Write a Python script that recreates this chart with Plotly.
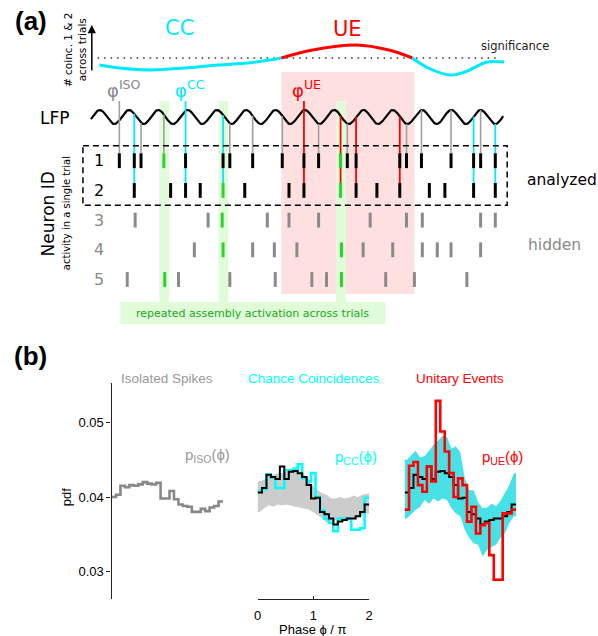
import numpy as np
import plotly.graph_objects as go

W, H = 598, 636

# ======================= Panel (a): single-trial sketch =======================
# spike times in units of LFP cycles (cycle 0 = first LFP peak)
spikes_n1 = [0.67, 1.18, 1.41, 2.19, 2.93, 4.21, 4.44, 5.22, 6.23, 6.97, 7.47,
             8.22, 8.45, 8.75, 10.24, 10.47, 10.98, 11.99, 12.76, 13.00, 13.50]
spikes_n2 = [1.18, 2.42, 2.93, 3.43, 4.21, 4.95, 6.46, 6.97, 8.22, 8.75, 9.46,
             10.24, 11.25, 11.78, 12.76, 13.50]
spikes_n3 = [1.21, 3.70, 4.18, 5.72, 6.46, 7.47, 9.23, 10.47, 11.01, 13.00, 13.50]
spikes_n4 = [3.23, 4.21, 5.22, 5.96, 6.73, 8.25, 8.99, 10.00, 11.01, 11.52, 11.99, 13.00]
spikes_n5 = [0.94, 2.22, 2.69, 4.44, 5.99, 7.24, 7.74, 8.25, 9.76, 10.74, 12.53]

assembly_times = [2.20, 4.22, 8.23]
assembly_members = [[1, 5], [2, 3, 4], [1, 2, 4, 5]]
ue_window = [6.20, 10.74]
lfp_span = [-0.30, 13.77]
labelled_spikes = [("ISO", 0.67), ("CC", 2.93), ("UE", 6.97)]   # spikes of neuron 1

# number of coincidences (neurons 1 & 2) across trials, schematic
coinc_t = [-0.01, 0.67, 1.78, 2.90, 4.04, 5.15, 6.20, 7.27, 8.75, 9.87, 10.67,
           11.21, 11.95, 12.46, 13.23, 13.80]
coinc_n = [8.6, 8.0, 7.6, 8.0, 8.6, 9.06, 10.0, 11.6, 12.6, 11.6, 10.0,
           8.0, 6.6, 7.2, 9.2, 9.2]
significance_level = 10.0
significance_span = [-0.07, 13.57]

# ======================= Panel (b): phase distributions =======================
n_bins = 25
p_iso = [0.0400, 0.0403, 0.0415, 0.0413, 0.0416, 0.0415, 0.0417, 0.0420, 0.0418,
         0.0417, 0.0419, 0.0398, 0.0398, 0.0408, 0.0397, 0.0390, 0.0388, 0.0387,
         0.0380, 0.0380, 0.0384, 0.0381, 0.0386, 0.0388, 0.0394]
p_all = [0.0406, 0.0412, 0.0430, 0.0427, 0.0424, 0.0441, 0.0424, 0.0434, 0.0435,
         0.0432, 0.0427, 0.0416, 0.0398, 0.0399, 0.0380, 0.0377, 0.0371, 0.0363,
         0.0367, 0.0369, 0.0371, 0.0371, 0.0374, 0.0380, 0.0390]
p_cc = [0.0408, 0.0410, 0.0430, 0.0426, 0.0412, 0.0412, 0.0436, 0.0436, 0.0438,
        0.0444, 0.0425, 0.0421, 0.0432, 0.0400, 0.0382, 0.0371, 0.0365, 0.0354,
        0.0371, 0.0371, 0.0371, 0.0356, 0.0356, 0.0358, 0.0399]
cc_hi = [0.0421, 0.0423, 0.0430, 0.0430, 0.0432, 0.0432, 0.0434, 0.0434, 0.0436,
         0.0432, 0.0430, 0.0425, 0.0414, 0.0409, 0.0405, 0.0403, 0.0398, 0.0398,
         0.0400, 0.0398, 0.0399, 0.0402, 0.0400, 0.0403, 0.0405]
cc_lo = [0.0380, 0.0385, 0.0389, 0.0387, 0.0390, 0.0389, 0.0390, 0.0389, 0.0387,
         0.0386, 0.0385, 0.0383, 0.0380, 0.0376, 0.0371, 0.0365, 0.0367, 0.0369,
         0.0369, 0.0369, 0.0370, 0.0371, 0.0374, 0.0375, 0.0378]
p_ue = [0.0383, 0.0442, 0.0447, 0.0416, 0.0407, 0.0441, 0.0421, 0.0529, 0.0488,
        0.0461, 0.0432, 0.0400, 0.0425, 0.0416, 0.0367, 0.0387, 0.0351, 0.0362,
        0.0365, 0.0322, 0.0289, 0.0289, 0.0378, 0.0378, 0.0383]
ue_hi = [0.0450, 0.0456, 0.0462, 0.0453, 0.0455, 0.0462, 0.0470, 0.0476, 0.0482,
         0.0481, 0.0465, 0.0468, 0.0460, 0.0425, 0.0409, 0.0409, 0.0393, 0.0385,
         0.0386, 0.0391, 0.0388, 0.0395, 0.0406, 0.0416, 0.0432]
ue_lo = [0.0371, 0.0377, 0.0383, 0.0387, 0.0396, 0.0391, 0.0398, 0.0394, 0.0398,
         0.0396, 0.0385, 0.0378, 0.0374, 0.0356, 0.0345, 0.0338, 0.0336, 0.0320,
         0.0329, 0.0333, 0.0336, 0.0345, 0.0351, 0.0365, 0.0374]
y_ticks = [0.03, 0.04, 0.05]
x_ticks = [0, 1, 2]

# ======================= layout constants (pixels) =======================
FA = "DejaVu Sans"
FB = "Liberation Sans"
CYAN = "#00eaff"
RED = "#ff0000"
GREEN = "#2fd12f"
GRAYS = "#8a8a8a"
GRAYL = "#a0a0a0"

T0_PX, PX_PER_CYCLE = 97.0, 29.7
ROW0_PX, PX_PER_ROW = 131.0, 29.7


def px(x):
    return x / W


def py(y):
    return 1 - y / H


def row_of(ypx):
    return (ypx - ROW0_PX) / PX_PER_ROW


LFP_MID, LFP_AMP = row_of(117), 7 / PX_PER_ROW


def lfp(t):
    return LFP_MID - LFP_AMP * np.cos(2 * np.pi * np.asarray(t))


SPIKE_HALF = 0.25
fig = go.Figure()

# ---- LFP ----
t_lfp = np.linspace(lfp_span[0], lfp_span[1], 700)
fig.add_trace(go.Scatter(x=t_lfp, y=lfp(t_lfp), mode="lines",
                         line=dict(color="black", width=2.2), xaxis="x", yaxis="y",
                         hoverinfo="skip", showlegend=False))

# ---- connectors from LFP to neuron 1 (and 2 for coincidences) ----
label_start = {t: row_of(101) for _, t in labelled_spikes}
conn = {"gray": ([], []), "cyan": ([], []), "red": ([], [])}
for t in spikes_n1:
    coinc = any(abs(t - s) < 0.05 for s in spikes_n2)
    y0 = label_start.get(t, float(lfp(t)))
    if coinc:
        key = "red" if ue_window[0] <= t <= ue_window[1] else "cyan"
        y1 = 2 - SPIKE_HALF
    else:
        key = "gray"
        y1 = 1 - SPIKE_HALF
    conn[key][0].extend([t, t, None])
    conn[key][1].extend([y0, y1, None])
for key, col, wd in [("gray", GRAYL, 1.6), ("cyan", CYAN, 1.8), ("red", RED, 1.8)]:
    fig.add_trace(go.Scatter(x=conn[key][0], y=conn[key][1], mode="lines",
                             line=dict(color=col, width=wd), xaxis="x", yaxis="y",
                             hoverinfo="skip", showlegend=False))

# ---- spikes ----
all_spikes = [spikes_n1, spikes_n2, spikes_n3, spikes_n4, spikes_n5]
groups = {"black": ([], []), "gray": ([], []), "green": ([], [])}
for n, sp in enumerate(all_spikes, start=1):
    for t in sp:
        in_asm = any(abs(t - a) < 0.17 and n in m
                     for a, m in zip(assembly_times, assembly_members))
        key = "green" if in_asm else ("black" if n <= 2 else "gray")
        groups[key][0].extend([t, t, None])
        groups[key][1].extend([n - SPIKE_HALF, n + SPIKE_HALF, None])
for key, col in [("black", "black"), ("gray", GRAYS), ("green", GREEN)]:
    fig.add_trace(go.Scatter(x=groups[key][0], y=groups[key][1], mode="lines",
                             line=dict(color=col, width=3), xaxis="x", yaxis="y",
                             hoverinfo="skip", showlegend=False))

# ---- coincidence count curve (top) ----
fig.add_trace(go.Scatter(x=significance_span, y=[significance_level] * 2, mode="lines",
                         line=dict(color="#333333", width=1.4, dash="1.5px,5px"),
                         xaxis="x", yaxis="y5", hoverinfo="skip", showlegend=False))
segs = []
cur = [0]
for i in range(1, len(coinc_t)):
    cur.append(i)
    if abs(coinc_n[i] - significance_level) < 1e-9 and i < len(coinc_t) - 1:
        segs.append(cur)
        cur = [i]
segs.append(cur)
for seg in segs:
    vals = [coinc_n[i] for i in seg]
    above = np.mean(vals) > significance_level
    fig.add_trace(go.Scatter(x=[coinc_t[i] for i in seg], y=vals, mode="lines",
                             line=dict(color=RED if above else CYAN, width=3, shape="spline"),
                             xaxis="x", yaxis="y5", hoverinfo="skip", showlegend=False))

# ======================= Panel (b) traces =======================
edges = np.linspace(0, 2, n_bins + 1)
centers = (edges[:-1] + edges[1:]) / 2


def stairs(vals, col, wd, xa):
    return go.Scatter(x=edges, y=list(vals) + [vals[-1]], mode="lines",
                      line=dict(color=col, width=wd, shape="hv"),
                      xaxis=xa, yaxis="y2", hoverinfo="skip", showlegend=False)


def band(lo, hi, col, xa):
    xb = [0.0] + list(centers) + [2.0]
    hb = [hi[0]] + list(hi) + [hi[-1]]
    lb = [lo[0]] + list(lo) + [lo[-1]]
    return go.Scatter(x=xb + xb[::-1], y=hb + lb[::-1], mode="lines", fill="toself",
                      fillcolor=col, line=dict(width=0, color=col),
                      xaxis=xa, yaxis="y2", hoverinfo="skip", showlegend=False)


fig.add_trace(stairs(p_iso, "#888888", 2.6, "x2"))
fig.add_trace(band(cc_lo, cc_hi, "#cccccc", "x3"))
fig.add_trace(stairs(p_cc, "#00ffff", 2.6, "x3"))
fig.add_trace(stairs(p_all, "black", 2.0, "x3"))
fig.add_trace(band(ue_lo, ue_hi, "#48e2e6", "x4"))
fig.add_trace(stairs(p_all, "black", 2.0, "x4"))
fig.add_trace(stairs(p_ue, RED, 2.6, "x4"))

# ======================= shapes =======================
shapes = []
# UE window (pink)
shapes.append(dict(type="rect", xref="x", yref="y", x0=ue_window[0], x1=ue_window[1],
                   y0=row_of(72), y1=row_of(294), fillcolor="#ffe0e0",
                   line=dict(width=0), layer="below"))
# assembly activation bands
for a in assembly_times:
    shapes.append(dict(type="rect", xref="x", yref="y", x0=a - 0.165, x1=a + 0.165,
                       y0=row_of(101), y1=row_of(302), fillcolor="#e0fcd8",
                       line=dict(width=0), layer="below"))
shapes.append(dict(type="rect", xref="paper", yref="paper", x0=px(118), x1=px(387),
                   y0=py(324), y1=py(302), fillcolor="#e0fcd8", line=dict(width=0),
                   layer="below"))
# analyzed neurons box
shapes.append(dict(type="rect", xref="x", yref="y", x0=(80 - T0_PX) / PX_PER_CYCLE,
                   x1=(510 - T0_PX) / PX_PER_CYCLE, y0=0.5, y1=2.5,
                   line=dict(color="black", width=1.5, dash="6px,4px"),
                   fillcolor="rgba(0,0,0,0)", layer="above"))

# ======================= annotations =======================
ann = []


def A(text, x, y, size, color="black", family=FA, angle=0, xanchor="center", **kw):
    ann.append(dict(text=text, x=px(x), y=py(y), xref="paper", yref="paper",
                    showarrow=False, textangle=angle, xanchor=xanchor, yanchor="middle",
                    font=dict(size=size, color=color, family=family), **kw))


A("<b>(a)</b>", 27, 21, 26, family=FB)
A("<b>(b)</b>", 27, 356, 26, family=FB)
A("# coinc. 1 &amp; 2<br>across trials", 72, 50, 10.5, angle=-90)
ann.append(dict(text="", x=px(89), y=py(25), xref="paper", yref="paper", ax=0, ay=47,
                showarrow=True, arrowhead=2, arrowsize=1.1, arrowwidth=1.5,
                arrowcolor="black", standoff=0))
A("CC", 178, 28, 21, CYAN)
A("UE", 348, 29, 21, RED)
A("significance", 518, 46, 11.5, "#222222")
A("φ<sup>ISO</sup>", 122, 89, 18, GRAYS)
A("φ<sup>CC</sup>", 189, 89, 18, CYAN)
A("φ<sup>UE</sup>", 307, 89, 18, RED)
A("LFP", 52, 118, 17)
for n, col in zip([1, 2, 3, 4, 5], ["black", "black", GRAYS, GRAYS, GRAYS]):
    A(str(n), 96, ROW0_PX + n * PX_PER_ROW, 16, col)
A("Neuron ID", 45, 214, 17, angle=-90)
A("activity in a single trial", 63, 213, 10, angle=-90)
A("analyzed", 528, 180, 15.5, xanchor="left")
A("hidden", 529, 245, 15.5, GRAYS, xanchor="left")
A("repeated assembly activation across trials", 252, 313, 11, "#22a822")

A("Isolated Spikes", 165, 378, 13.5, "#999999", FB)
A("Chance Coincidences", 314, 378, 13.5, "#00ffff", FB)
A("Unitary Events", 462, 378, 13.5, RED, FB)
A("p<sub>ISO</sub>(ϕ)", 206, 455, 15, "#999999", FB)
A("p<sub>CC</sub>(ϕ)", 357, 457, 15, "#00ffff", FB)
A("p<sub>UE</sub>(ϕ)", 505, 457, 15, RED, FB)
A("pdf", 63, 497, 13, angle=-90, family=FB)
A("Phase ϕ / π", 313, 629, 13, family=FB)

# ======================= axes =======================
hid = dict(visible=False, showgrid=False, zeroline=False, fixedrange=True)
ylo = 0.04 - (599 - 497) / 7450
yhi = 0.04 + (497 - 383) / 7450
fig.update_layout(
    width=W, height=H, autosize=False,
    margin=dict(l=0, r=0, t=0, b=0, pad=0),
    paper_bgcolor="white", plot_bgcolor="rgba(0,0,0,0)",
    showlegend=False,
    xaxis=dict(domain=[0, 1], range=[-T0_PX / PX_PER_CYCLE, (W - T0_PX) / PX_PER_CYCLE],
               anchor="y", **hid),
    yaxis=dict(domain=[0, 1], range=[row_of(H), row_of(0)], anchor="x", **hid),
    yaxis5=dict(domain=[py(85), py(20)], range=[4.6, 17.6], anchor="x", **hid),
    xaxis2=dict(domain=[px(109), px(222)], range=[0, 2], anchor="y2", **hid),
    yaxis2=dict(domain=[py(599), py(383)], range=[ylo, yhi], anchor="x2",
                showline=True, linecolor="#222222", linewidth=1.4, ticks="outside",
                ticklen=4, tickwidth=1.2, tickcolor="#222222", tickvals=y_ticks,
                ticktext=[f"{v:.2f}" for v in y_ticks], showgrid=False, zeroline=False,
                tickfont=dict(family=FB, size=13, color="black")),
    xaxis3=dict(domain=[px(257), px(370)], range=[0, 2], anchor="y2",
                showline=True, linecolor="#222222", linewidth=1.4, ticks="inside",
                ticklen=3, tickwidth=1.2, tickcolor="#222222", tickvals=x_ticks,
                showgrid=False, zeroline=False, ticklabelstandoff=4,
                tickfont=dict(family=FB, size=13, color="black")),
    xaxis4=dict(domain=[px(406), px(519)], range=[0, 2], anchor="y2", **hid),
    shapes=shapes, annotations=ann,
)

fig.write_html("out.html")
